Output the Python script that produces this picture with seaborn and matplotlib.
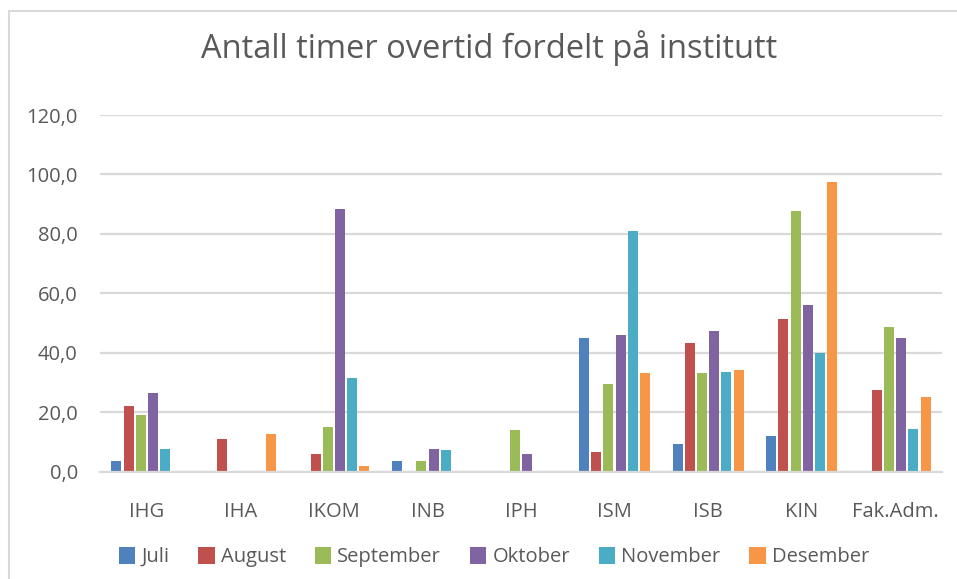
import numpy as np
import pandas as pd
import matplotlib
matplotlib.use("Agg")
import matplotlib.pyplot as plt
import seaborn as sns
from matplotlib.patches import Rectangle

# values (0 = no bar)
institutter = ["IHG", "IHA", "IKOM", "INB", "IPH", "ISM", "ISB", "KIN", "Fak.Adm."]
maaneder = ["Juli", "August", "September", "Oktober", "November", "Desember"]

juli = [3.5, 0, 0, 3.7, 0, 44.8, 9.2, 11.9, 0]
august = [22.0, 10.8, 5.8, 0, 0, 6.5, 43.1, 51.5, 27.4]
september = [19.0, 0, 14.9, 3.4, 13.9, 29.4, 33.1, 87.8, 48.5]
oktober = [26.4, 0, 88.5, 7.5, 5.8, 45.8, 47.2, 55.9, 44.8]
november = [7.5, 0, 31.4, 7.1, 0, 81.1, 33.4, 39.8, 14.3]
desember = [0, 12.5, 1.8, 0, 0, 33.1, 34.1, 97.5, 25.0]

farger = ["#4F81BD", "#C0504D", "#9BBB59", "#8064A2", "#4BACC6", "#F79646"]
y_ticks = [0, 20, 40, 60, 80, 100, 120]

TEXT_COLOR = "#595959"
GRID_COLOR = "#D9D9D9"

serier = [juli, august, september, oktober, november, desember]
df = pd.DataFrame({
    "institutt": np.tile(institutter, len(maaneder)),
    "maaned": np.repeat(maaneder, len(institutter)),
    "timer": np.concatenate(serier),
})

sns.set_style("white")
plt.rcParams["font.family"] = ["Open Sans", "DejaVu Sans"]

fig = plt.figure(figsize=(9.57, 5.79), dpi=100)
ax = fig.add_axes([100 / 957, 1 - 471.5 / 579, 842 / 957, (471.5 - 115) / 579])

sns.barplot(data=df, x="institutt", y="timer", hue="maaned",
            order=institutter, hue_order=maaneder, palette=farger,
            width=0.78, gap=0.18, linewidth=0, saturation=1, ax=ax)

ax.set_xlim(-0.5, len(institutter) - 0.5)
ax.set_ylim(0, 120)
ax.set_yticks(y_ticks)
ax.set_yticklabels([f"{v:.1f}".replace(".", ",") for v in y_ticks])
ax.yaxis.grid(True, color=GRID_COLOR, linewidth=1.6)
ax.set_axisbelow(True)
ax.set_xlabel("")
ax.set_ylabel("")
for side in ["top", "right", "left"]:
    ax.spines[side].set_visible(False)
ax.spines["bottom"].set_color(GRID_COLOR)
ax.spines["bottom"].set_linewidth(1.6)
ax.tick_params(axis="x", length=0, pad=22, labelsize=14.5, labelcolor=TEXT_COLOR)
ax.tick_params(axis="y", length=0, pad=16, labelsize=14.5, labelcolor=TEXT_COLOR)

fig.text(489 / 957, 1 - 48 / 579, "Antall timer overtid fordelt på institutt",
         ha="center", va="center", fontsize=23.5, color=TEXT_COLOR)

sns.move_legend(ax, "center", bbox_to_anchor=(494 / 957, 1 - 557 / 579),
                bbox_transform=fig.transFigure, ncol=6, frameon=False, title=None,
                fontsize=14.5, handlelength=0.8, handleheight=0.9,
                handletextpad=0.3, columnspacing=1.45, labelcolor=TEXT_COLOR)

# chart border
fig.patches.append(Rectangle((9 / 957, -0.05), 1.1, 1 - 11 / 579 + 0.05,
                             transform=fig.transFigure, fill=False,
                             edgecolor=GRID_COLOR, linewidth=1.5))

fig.savefig("out.png", dpi=100)
plt.close(fig)
